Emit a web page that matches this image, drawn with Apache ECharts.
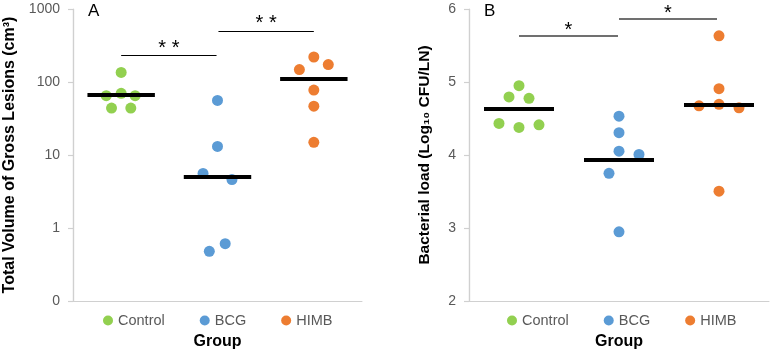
<!DOCTYPE html>
<html><head><meta charset="utf-8">
<script src="https://cdn.jsdelivr.net/npm/echarts@6/dist/echarts.min.js"></script>
<style>html,body{margin:0;padding:0;background:#fff}#c{width:771px;height:355px}</style>
</head><body><div id="c"></div>
<script>
const categories = ['Control', 'BCG', 'HIMB'];
// Panel A: total volume of gross lesions (cm3), log scale
const lesionControl = [135, 65, 70, 65, 44, 44];
const lesionControlJitter = [0, -0.155, 0, 0.145, -0.1, 0.1];
const lesionBCG = [56, 13.1, 5.6, 4.6, 0.61, 0.48];
const lesionBCGJitter = [0, 0, -0.15, 0.15, 0.08, -0.085];
const lesionHIMB = [220, 173, 148, 77.6, 46.6, 14.9];
const lesionHIMBJitter = [0, 0.15, -0.15, 0, 0, 0];
const lesionMedians = [66, 5.1, 112];
const lesionSig = [{ from: 0, to: 0.99, y: 232, label: '* *' }, { from: 1.01, to: 2, y: 502, label: '* *' }];
const lesionRange = [0.1, 1000];
const lesionTicks = { 0.1: '0', 1: '1', 10: '10', 100: '100', 1000: '1000' };
// Panel B: bacterial load (log10 CFU/LN)
const loadControl = [4.95, 4.795, 4.777, 4.433, 4.378, 4.414];
const loadControlJitter = [0, -0.1, 0.1, -0.2, 0, 0.2];
const loadBCG = [4.532, 4.306, 4.052, 4.007, 3.749, 2.947];
const loadBCGJitter = [0, 0, 0, 0.2, -0.1, 0];
const loadHIMB = [5.633, 4.908, 4.673, 4.695, 4.646, 3.504];
const loadHIMBJitter = [0, 0, -0.2, 0, 0.2, 0];
const loadMedians = [4.627, 3.934, 4.682];
const loadSig = [{ from: 0, to: 0.99, y: 5.633, label: '*' }, { from: 1, to: 1.98, y: 5.869, label: '*' }];
const loadRange = [2, 6];

const colors = ['#92d050', '#5b9bd5', '#ed7d31'];
const FONT = 'Liberation Sans';
const medianHalf = 0.35;
const C0 = 0.5; // category i sits at i + 0.5 on a 0..3 value axis
const axisColor = '#d0d0d0';

function pts(vals, jit, idx) { return vals.map((v, i) => [C0 + idx + jit[i], v]); }
function medianLine(idx, m) {
  return [{ coord: [C0 + idx - medianHalf, m] }, { coord: [C0 + idx + medianHalf, m] }];
}
function sigLines(sig, width, color, dist) {
  return sig.map(s => [
    { coord: [C0 + s.from, s.y], lineStyle: { color: color, width: width, type: 'solid' },
      label: { show: true, formatter: s.label, position: 'insideMiddleTop', distance: dist,
        fontSize: 20, color: '#000', fontFamily: FONT } },
    { coord: [C0 + s.to, s.y] }
  ]);
}
function axisEdge(range) {
  return [{ coord: [0, range[0]], lineStyle: { color: axisColor, width: 1.2, type: 'solid' } }, { coord: [0, range[1]] }];
}
function makeSeries(panel, groups, meds, sig, sigWidth, sigColor, dist, range) {
  return groups.map((g, i) => {
    let data = [medianLine(i, meds[i])];
    if (i < 2) data = data.concat(sigLines([sig[i]], sigWidth, sigColor, dist));
    if (i === 0) data.push(axisEdge(range));
    return {
      type: 'scatter', name: categories[i], xAxisIndex: panel, yAxisIndex: panel,
      symbolSize: 11, itemStyle: { color: colors[i], opacity: 1 },
      data: pts(g[0], g[1], i), z: 2,
      markLine: {
        silent: true, symbol: 'none', animation: false,
        lineStyle: { color: '#000', width: 4, type: 'solid' },
        label: { show: false },
        data: data
      }
    };
  });
}

const yLine = { show: true, onZero: false, lineStyle: { color: axisColor, width: 1.2 } };
const yTick = { show: true, length: 5, lineStyle: { color: axisColor, width: 1.2 } };
const labelStyle = { color: '#595959', fontSize: 14, fontFamily: FONT };
const legendStyle = { color: '#595959', fontSize: 14.5, fontFamily: FONT };
const nameStyle = { color: '#000', fontSize: 15.5, fontWeight: 'bold', fontFamily: FONT };

const chart = echarts.init(document.getElementById('c'), null, { renderer: 'canvas' });
chart.setOption({
  animation: false,
  backgroundColor: '#fff',
  grid: [
    { left: 73, right: 409, top: 9, bottom: 52 },
    { left: 469, right: 2, top: 9, bottom: 52 }
  ],
  xAxis: [0, 1].map(k => ({
    gridIndex: k, type: 'value', min: 0, max: 3, position: 'bottom',
    axisLine: { show: true, onZero: false, lineStyle: { color: axisColor, width: 1 } }, axisTick: { show: false },
    axisLabel: { show: false }, splitLine: { show: false },
    name: 'Group', nameLocation: 'middle', nameGap: 33,
    nameTextStyle: { color: '#000', fontSize: 16, fontWeight: 'bold', fontFamily: FONT }
  })),
  yAxis: [
    {
      gridIndex: 0, type: 'log', logBase: 10, min: lesionRange[0], max: lesionRange[1], position: 'left',
      axisLine: yLine, axisTick: yTick,
      axisLabel: { ...labelStyle, margin: 13, formatter: v => {
        const keys = Object.keys(lesionTicks).map(Number);
        let best = keys[0];
        keys.forEach(k => { if (Math.abs(Math.log10(k) - Math.log10(v)) < Math.abs(Math.log10(best) - Math.log10(v))) best = k; });
        return lesionTicks[best];
      } },
      splitLine: { show: false },
      name: 'Total Volume of Gross Lesions (cm³)', nameLocation: 'middle', nameGap: 55,
      nameTextStyle: { ...nameStyle, fontSize: 16 }
    },
    {
      gridIndex: 1, type: 'value', min: loadRange[0], max: loadRange[1], interval: 1, position: 'left',
      axisLine: yLine, axisTick: yTick,
      axisLabel: { ...labelStyle, margin: 13 },
      splitLine: { show: false },
      name: 'Bacterial load (Log₁₀ CFU/LN)', nameLocation: 'middle', nameGap: 36,
      nameTextStyle: nameStyle
    }
  ],
  legend: [
    { left: 98, top: 308, itemWidth: 10, itemHeight: 10, itemGap: 35, icon: 'circle',
      textStyle: legendStyle, selectedMode: false, data: categories },
    { left: 502, top: 308, itemWidth: 10, itemHeight: 10, itemGap: 35, icon: 'circle',
      textStyle: legendStyle, selectedMode: false, data: categories }
  ],
  graphic: [
    { type: 'text', left: 88, top: 3, style: { text: 'A', fontSize: 17, fill: '#000', fontFamily: FONT } },
    { type: 'text', left: 484, top: 3, style: { text: 'B', fontSize: 17, fill: '#000', fontFamily: FONT } }
  ],
  series: [
    ...makeSeries(0, [[lesionControl, lesionControlJitter], [lesionBCG, lesionBCGJitter], [lesionHIMB, lesionHIMBJitter]],
      lesionMedians, lesionSig, 1, '#000', -3, lesionRange),
    ...makeSeries(1, [[loadControl, loadControlJitter], [loadBCG, loadBCGJitter], [loadHIMB, loadHIMBJitter]],
      loadMedians, loadSig, 1.5, '#404040', -5, loadRange)
  ]
});
</script></body></html>
